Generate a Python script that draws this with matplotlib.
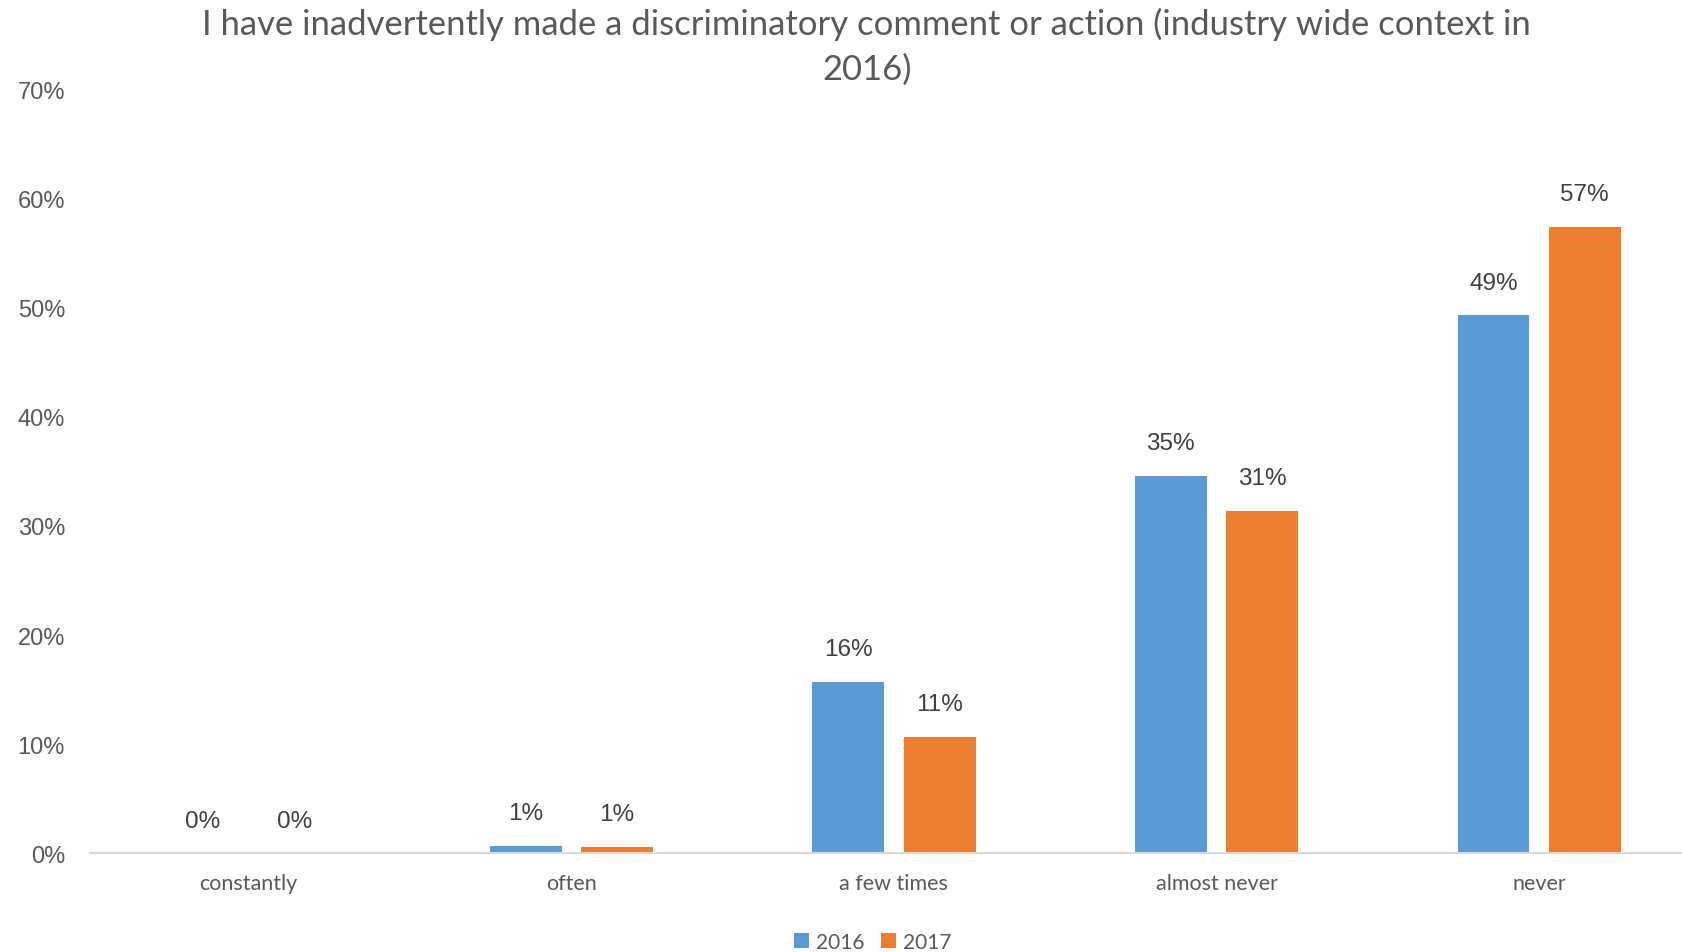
import numpy as np
import matplotlib.pyplot as plt

categories = ['constantly', 'often', 'a few times', 'almost never', 'never']
series_names = ['2016', '2017']
values_2016 = [0.0, 0.7, 15.7, 34.6, 49.3]
values_2017 = [0.0, 0.6, 10.7, 31.4, 57.4]
y_ticks = [0, 10, 20, 30, 40, 50, 60, 70]

blue = '#5B9BD5'
orange = '#ED7D31'
grey_text = '#595959'

fig = plt.figure(figsize=(16.83, 9.53), dpi=100)
ax = fig.add_axes([90 / 1683, 0.1035, 1 - 90 / 1683, 0.9054 - 0.1035])

x = np.arange(len(categories))
offset = 0.1415
width = 0.223
bars1 = ax.bar(x - offset, values_2016, width, color=blue, label=series_names[0])
bars2 = ax.bar(x + offset, values_2017, width, color=orange, label=series_names[1])

# value labels above each bar
for bars in (bars1, bars2):
    for b in bars:
        h = b.get_height()
        ax.annotate(f'{h:.0f}%', (b.get_x() + b.get_width() / 2, h),
                    xytext=(0, 23.5), textcoords='offset points',
                    ha='center', va='center', fontsize=17.5,
                    family='Liberation Sans', color='#404040')

ax.set_xlim(-0.492, 4.446)
ax.set_ylim(0, 70)
ax.set_yticks(y_ticks)
ax.set_yticklabels([f'{t}%' for t in y_ticks], family='Liberation Sans',
                   fontsize=17, color=grey_text)
ax.set_xticks(x)
ax.set_xticklabels(categories, family='Lato', fontsize=15.5, color=grey_text)
ax.tick_params(axis='y', length=0, pad=18)
ax.tick_params(axis='x', length=0, pad=14)

for side in ('top', 'right', 'left'):
    ax.spines[side].set_visible(False)
ax.spines['bottom'].set_color('#D9D9D9')
ax.spines['bottom'].set_linewidth(1.5)

fig.text(0.515, 1 - 24 / 953,
         'I have inadvertently made a discriminatory comment or action (industry wide context in',
         ha='center', va='center', fontsize=24.9, family='Lato', color=grey_text)
fig.text(0.515, 1 - 70 / 953, '2016)',
         ha='center', va='center', fontsize=24.9, family='Lato', color=grey_text)

leg = fig.legend(loc='center', bbox_to_anchor=(873 / 1683, 1 - 943 / 953),
                 ncol=2, frameon=False, handlelength=0.7, handleheight=0.7,
                 handletextpad=0.35, columnspacing=0.8,
                 prop={'family': 'Lato', 'size': 15})
for t in leg.get_texts():
    t.set_color(grey_text)

fig.savefig('out.png', dpi=100)
